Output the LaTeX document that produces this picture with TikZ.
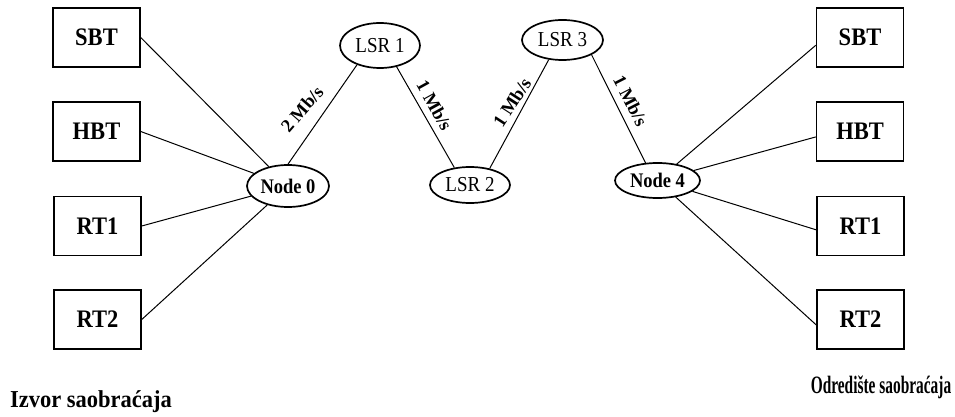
\documentclass[tikz,border=0pt]{standalone}
\usepackage{fontspec}
\setmainfont{Liberation Serif}
\usetikzlibrary{shapes.geometric}
\newcommand{\tallx}[1]{\scalebox{1}[1.12]{#1}}
\tikzset{
  boxnode/.style={draw, line width=1.5pt, minimum width=87pt, minimum height=59pt, inner sep=0pt,
    font=\fontsize{22.5}{26}\selectfont\bfseries},
  ell/.style={draw, ellipse, line width=1.7pt, inner sep=0pt},
  nodeell/.style={ell, font=\fontsize{18.5}{22}\selectfont\bfseries},
  lsrell/.style={ell, font=\fontsize{19}{22}\selectfont},
  link/.style={line width=1pt},
  rate/.style={font=\fontsize{18.5}{22}\selectfont\bfseries, inner sep=0pt},
  caption/.style={inner sep=0pt, anchor=base}
}
\begin{document}
\begin{tikzpicture}[x=1pt, y=-1pt]
\useasboundingbox (0,0) rectangle (955,417);
% left boxes
\node[boxnode] (ls) at (96.5,37.5) {\tallx{SBT}};
\node[boxnode] (lh) at (96.5,131.5) {\tallx{HBT}};
\node[boxnode] (l1) at (97.5,226) {\tallx{RT1}};
\node[boxnode] (l2) at (97.5,319.5) {\tallx{RT2}};
% right boxes
\node[boxnode] (rs) at (860,37.5) {\tallx{SBT}};
\node[boxnode] (rh) at (860,131.5) {\tallx{HBT}};
\node[boxnode] (r1) at (860.5,226) {\tallx{RT1}};
\node[boxnode] (r2) at (860.5,319.5) {\tallx{RT2}};
% ellipses
\node[nodeell, minimum width=82pt, minimum height=42pt] (n0) at (288,186) {\tallx{Node 0}};
\node[nodeell, minimum width=85pt, minimum height=35pt] (n4) at (657.5,180.5) {\tallx{Node 4}};
\node[lsrell, minimum width=80pt, minimum height=45pt] (s1) at (380,45.5) {\tallx{LSR 1}};
\node[lsrell, minimum width=80pt, minimum height=36pt] (s2) at (470,185) {\tallx{LSR 2}};
\node[lsrell, minimum width=81pt, minimum height=40pt] (s3) at (562.5,40) {\tallx{LSR 3}};
% left links
\draw[link] (ls.east) -- (n0);
\draw[link] (lh.east) -- (n0);
\draw[link] (l1.east) -- (n0);
\draw[link] (l2.east) -- (n0);
% right links
\draw[link] (n4) -- (rs.190);
\draw[link] (n4) -- (rh.187);
\draw[link] (n4) -- (r1.185);
\draw[link] (n4) -- (r2.187);
% core links
\draw[link] (n0.north) -- (s1.220);
\draw[link] (s1.308) -- (s2.132);
\draw[link] (s2.40) -- (s3.235);
\draw[link] (s3.333) -- (n4.124);
% rate labels
\node[rate, rotate=49] (t1) at (302,109) {2 Mb/s};
\node[rate, rotate=-61] (t2) at (434.5,105.5) {1 Mb/s};
\node[rate, rotate=57] (t3) at (512,102.5) {1 Mb/s};
\node[rate, rotate=-63] (t4) at (630.5,101) {1 Mb/s};
% captions
\node[caption, font=\fontsize{22.5}{26}\selectfont\bfseries] (src) at (91,407) {\scalebox{1}[1.08]{Izvor saobraćaja}};
\node[caption, font=\fontsize{20}{24}\selectfont\bfseries] (dst) at (881,393) {\scalebox{0.77}[1.25]{Odredište saobraćaja}};
\end{tikzpicture}
\end{document}
